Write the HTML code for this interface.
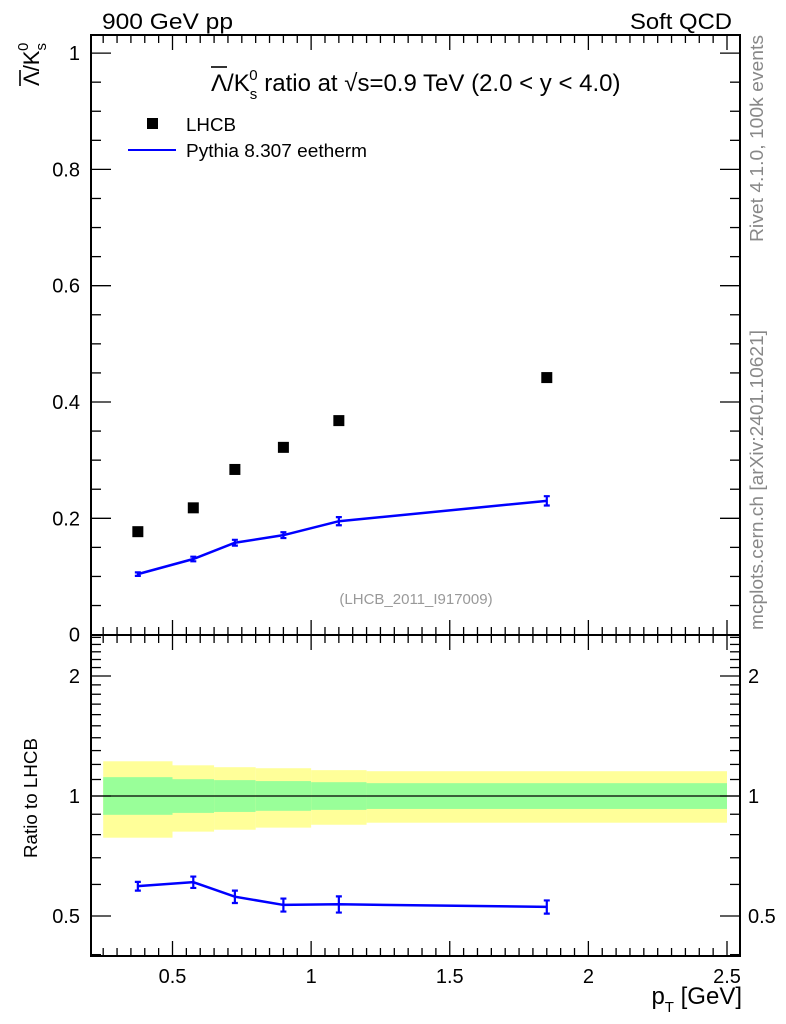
<!DOCTYPE html>
<html><head><meta charset="utf-8"><style>
html,body{margin:0;padding:0;background:#fff;}
svg{display:block;font-family:"Liberation Sans",sans-serif;}
</style></head><body>
<svg id="c" width="786" height="1024" viewBox="0 0 786 1024">
<text x="102" y="29" font-size="22" textLength="131" lengthAdjust="spacingAndGlyphs">900 GeV pp</text>
<text x="630" y="29" font-size="22" textLength="102" lengthAdjust="spacingAndGlyphs">Soft QCD</text>
<g>
<text x="211" y="91" font-size="24">Λ/K<tspan font-size="15" dy="8">s</tspan><tspan font-size="15" dx="-8" dy="-19">0</tspan><tspan dy="11"> ratio at √s=0.9 TeV (2.0 &lt; y &lt; 4.0)</tspan></text>
<line x1="211" x2="227" y1="67" y2="67" stroke="#000" stroke-width="1.6"/>
</g>
<g>
<text transform="translate(39,86) rotate(-90)" font-size="22">Λ/K<tspan font-size="15" dy="7">s</tspan><tspan font-size="15" dx="-8" dy="-18">0</tspan></text>
<line x1="20" x2="20" y1="86" y2="70" stroke="#000" stroke-width="1.6"/>
</g>
<text transform="translate(37,858) rotate(-90)" font-size="18" textLength="120" lengthAdjust="spacingAndGlyphs">Ratio to LHCB</text>
<text x="742" y="1004" font-size="24" text-anchor="end">p<tspan font-size="15" dy="8">T</tspan><tspan dy="-8"> [GeV]</tspan></text>
<text transform="translate(763,242) rotate(-90)" font-size="18" fill="#888" textLength="207" lengthAdjust="spacingAndGlyphs">Rivet 4.1.0,  100k events</text>
<text transform="translate(763,630) rotate(-90)" font-size="18" fill="#888" textLength="300" lengthAdjust="spacingAndGlyphs">mcplots.cern.ch [arXiv:2401.10621]</text>
<text x="416" y="604" font-size="15" fill="#999" text-anchor="middle">(LHCB_2011_I917009)</text>
<rect x="147" y="118" width="11" height="11" fill="#000"/>
<text x="186" y="131" font-size="18" textLength="50" lengthAdjust="spacingAndGlyphs">LHCB</text>
<line x1="128" y1="150" x2="176" y2="150" stroke="#0000ff" stroke-width="2"/>
<text x="186" y="157" font-size="18" textLength="181" lengthAdjust="spacingAndGlyphs">Pythia 8.307 eetherm</text>
<g id="g"></g>
</svg>
<script>
const binEdges=[0.25,0.5,0.65,0.8,1.0,1.2,2.5];
const xVals=[0.375,0.575,0.725,0.9,1.1,1.85];
const dataY=[0.177,0.218,0.284,0.322,0.368,0.442];
const mcY=[0.104,0.130,0.158,0.171,0.195,0.230];
const mcErr=[0.003,0.004,0.005,0.005,0.007,0.008];
const ratioY=[0.594,0.608,0.559,0.533,0.535,0.527];
const ratioErr=[0.015,0.02,0.02,0.02,0.025,0.02];
const yellowHi=[1.222,1.194,1.181,1.174,1.161,1.154];
const yellowLo=[0.786,0.814,0.823,0.833,0.847,0.857];
const greenHi=[1.115,1.102,1.096,1.090,1.083,1.077];
const greenLo=[0.897,0.907,0.912,0.918,0.923,0.928];
const xTicks=[0.5,1,1.5,2,2.5];
const xTickLabels=["0.5","1","1.5","2","2.5"];
const yTicks=[0,0.2,0.4,0.6,0.8,1];
const yTickLabels=["0","0.2","0.4","0.6","0.8","1"];
const rTicks=[0.5,1,2];
const rTickLabels=["0.5","1","2"];

const L=91,R=740,T=35,B=635,RB=956;
const X=v=>172.5+(v-0.5)*277.25;
const Y=v=>634.6-v*581.5;
const RY=v=>796-Math.log2(v)*120;
const NS="http://www.w3.org/2000/svg";
const g=document.getElementById('g');
function mk(t,a){const e=document.createElementNS(NS,t);for(const k in a)e.setAttribute(k,a[k]);g.appendChild(e);return e;}

for(let i=0;i<6;i++){
  let e=mk('rect',{x:X(binEdges[i]),y:RY(yellowHi[i]),width:X(binEdges[i+1])-X(binEdges[i]),height:RY(yellowLo[i])-RY(yellowHi[i]),fill:'#ffff99'});
  
  
  e=mk('rect',{x:X(binEdges[i]),y:RY(greenHi[i]),width:X(binEdges[i+1])-X(binEdges[i]),height:RY(greenLo[i])-RY(greenHi[i]),fill:'#99ff99'});
  
  
}
let one=mk('line',{x1:L,x2:R,y1:RY(1),y2:RY(1),stroke:'#000','stroke-width':1.3});



let f=mk('rect',{x:L,y:T,width:R-L,height:B-T,fill:'none',stroke:'#000','stroke-width':2});


f=mk('rect',{x:L,y:B,width:R-L,height:RB-B,fill:'none',stroke:'#000','stroke-width':2});



for(let v=0.25;v<=2.54;v+=0.05){
  const vv=Math.round(v*100)/100;const maj=Math.abs(vv*2-Math.round(vv*2))<1e-6;
  const len=maj?15:8,x=X(vv);
  [[T,1],[B,1],[B,-1],[RB,-1]].forEach(([y0,d])=>mk('line',{x1:x,x2:x,y1:y0,y2:y0+d*len,stroke:'#000','stroke-width':1.3}));
}
xTicks.forEach((v,i)=>{const t=mk('text',{x:X(v),y:983,'font-size':20,'text-anchor':'middle'});t.textContent=xTickLabels[i];

});
for(let k=0;k<=20;k++){const v=k*0.05,y=Y(v),len=(k%4==0)?20:10;
  mk('line',{x1:L,x2:L+len,y1:y,y2:y,stroke:'#000','stroke-width':1.3});
  mk('line',{x1:R,x2:R-len,y1:y,y2:y,stroke:'#000','stroke-width':1.3});}
yTicks.forEach((v,i)=>{const t=mk('text',{x:80,y:Y(v)+7,'font-size':20,'text-anchor':'end'});t.textContent=yTickLabels[i];

});
const rm=[0.4,0.5,0.6,0.7,0.8,0.9,1,1.1,1.2,1.3,1.4,1.5,1.6,1.7,1.8,1.9,2,2.1,2.2,2.3,2.4,2.5];
rm.forEach(v=>{const y=RY(v),len=(v==0.5||v==1||v==2)?20:10;
  mk('line',{x1:L,x2:L+len,y1:y,y2:y,stroke:'#000','stroke-width':1.3});
  mk('line',{x1:R,x2:R-len,y1:y,y2:y,stroke:'#000','stroke-width':1.3});});
rTicks.forEach((v,i)=>{let t=mk('text',{x:80,y:RY(v)+7,'font-size':20,'text-anchor':'end'});t.textContent=rTickLabels[i];


t=mk('text',{x:748,y:RY(v)+7,'font-size':20});t.textContent=rTickLabels[i];

});

function series(ys,errs,Yf,name){
  const p=mk('polyline',{points:xVals.map((x,i)=>X(x)+','+Yf(ys[i])).join(' '),fill:'none',stroke:'#0000ff','stroke-width':2.5});
  
  
  xVals.forEach((x,i)=>{const a=Yf(ys[i]+errs[i]),b=Yf(ys[i]-errs[i]),cx=X(x);
    const e=mk('path',{d:`M${cx},${a}V${b}M${cx-3},${a}h6M${cx-3},${b}h6`,stroke:'#0000ff','stroke-width':2.2,fill:'none'});
    
    });
}
series(mcY,mcErr,Y,'pythia');
series(ratioY,ratioErr,RY,'ratio');
xVals.forEach((x,i)=>{const r=mk('rect',{x:X(x)-5.5,y:Y(dataY[i])-5.5,width:11,height:11,fill:'#000'});

});
</script>
</body></html>
